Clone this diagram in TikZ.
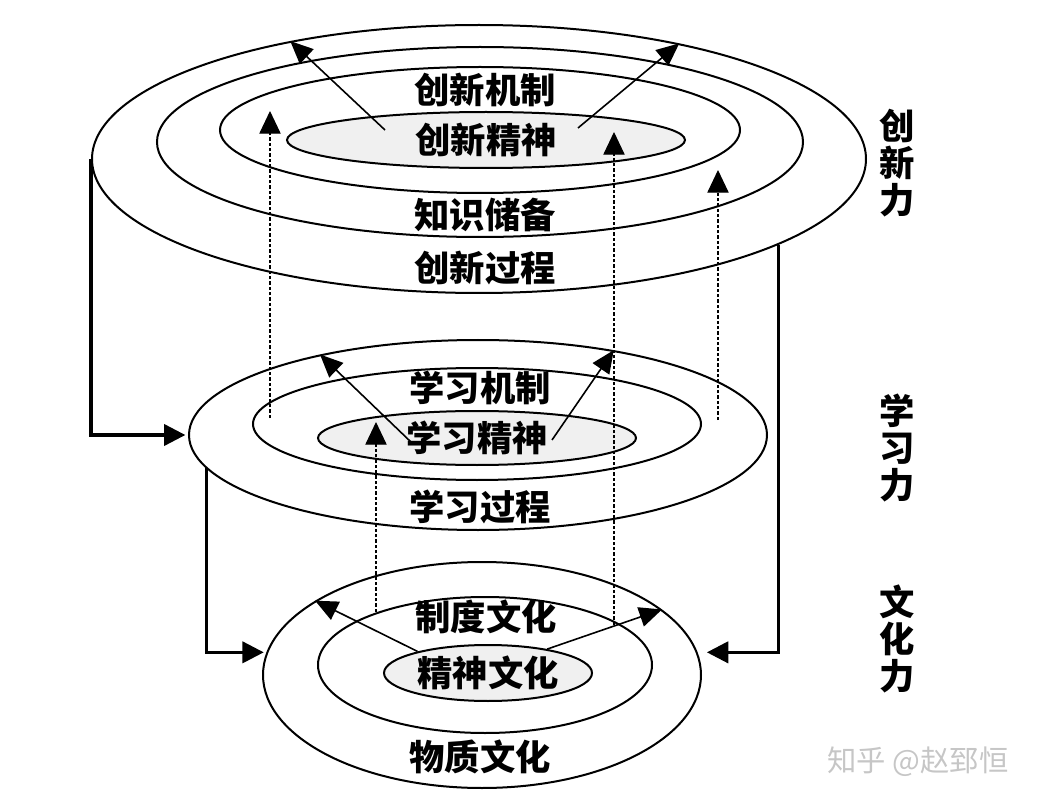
\documentclass[tikz,border=0pt]{standalone}
\usepackage{fontspec}
\newfontfamily\cjk{Noto Sans CJK SC}
\usetikzlibrary{shapes.geometric,arrows.meta}

\begin{document}
\begin{tikzpicture}[x=0.75pt,y=-0.75pt,
  txt/.style={font=\cjk\bfseries\fontsize{26.5}{28}\selectfont},
  ring/.style={draw, ellipse, line width=1.5pt, inner sep=0pt},
  core/.style={ring, fill=gray!12, txt},
  lbl/.style={txt, inner sep=0pt},
  side/.style={lbl, align=center},
  link/.style={line width=2.3pt, -{Triangle[length=16pt,width=16pt]}},
  push/.style={line width=1.2pt, -{Triangle[length=17pt,width=15pt]}},
  lift/.style={line width=0.8pt, dash pattern=on 2.5pt off 1.5pt, -{Triangle[length=17pt,width=16pt]}}]

  \useasboundingbox (0,0) rectangle (1040,806);

  % Top level: innovation rings
  \node[ring, minimum width=580.5pt, minimum height=201pt] (creOut) at (479,159) {};
  \node[ring, minimum width=484.5pt, minimum height=142.5pt] (creMid) at (480,142) {};
  \node[ring, minimum width=390pt, minimum height=94.5pt] (creIn) at (480,130) {};
  \node[core, minimum width=298.5pt, minimum height=42pt] (creCore) at (486,140) {创新精神};
  \node[lbl] (creMech) at (485,90) {创新机制};
  \node[lbl] (creKnow) at (485,215) {知识储备};
  \node[lbl] (creProc) at (485,268) {创新过程};

  % Middle level: learning rings
  \node[ring, minimum width=433.5pt, minimum height=142.5pt] (lrnOut) at (478,435) {};
  \node[ring, minimum width=336pt, minimum height=84pt] (lrnIn) at (477,424) {};
  \node[core, minimum width=238.5pt, minimum height=40.5pt] (lrnCore) at (477,438) {学习精神};
  \node[lbl] (lrnMech) at (480,388) {学习机制};
  \node[lbl] (lrnProc) at (480,507) {学习过程};

  % Bottom level: culture rings
  \node[ring, minimum width=328.5pt, minimum height=169.5pt] (culOut) at (482,675) {};
  \node[ring, minimum width=250.5pt, minimum height=102pt] (culIn) at (485,665) {};
  \node[core, minimum width=156pt, minimum height=42pt] (culCore) at (488,673) {精神文化};
  \node[lbl] (culInst) at (486,617) {制度文化};
  \node[lbl] (culMat) at (480,757) {物质文化};

  % Side labels
  \node[side] (creForce) at (897,163) {创\\新\\力};
  \node[side] (lrnForce) at (897,448) {学\\习\\力};
  \node[side] (culForce) at (897,639) {文\\化\\力};

  % Outward arrows from the cores
  \draw[push] ([shift={(-101,-10)}]creCore.center) -- (creOut.148);
  \draw[push] ([shift={(92,-12)}]creCore.center) -- (creOut.30);
  \draw[push] ([shift={(-65,5)}]lrnCore.center) -- (lrnOut.153);
  \draw[push] ([shift={(75,2)}]lrnCore.center) -- (lrnOut.32);
  \draw[push] (culCore.163) -- (culOut.156);
  \draw[push] (culCore.22) -- (culOut.20);

  % Feedback lines between levels
  \draw[link, shorten >=2pt] (creOut.west) |- (lrnOut.west);
  \draw[link, shorten >=7pt] (creOut.-16) |- (culOut.6);
  \draw[link, shorten >=2pt] (lrnOut.187) |- (culOut.174);

  % Dashed upward lifts
  \foreach \n/\x/\ya/\yb in {1/270/418/111, 2/614/625/132, 3/718/420/170, 4/376/612/422}{
    \coordinate (lo\n) at (\x,\ya);
    \coordinate (hi\n) at (\x,\yb);
    \draw[lift] (lo\n) -- (hi\n);
  }

  % Watermark
  \node[font=\cjk\fontsize{22}{24}\selectfont, text=gray!45] (mark) at (918,762) {知乎 @赵郅恒};
\end{tikzpicture}
\end{document}
